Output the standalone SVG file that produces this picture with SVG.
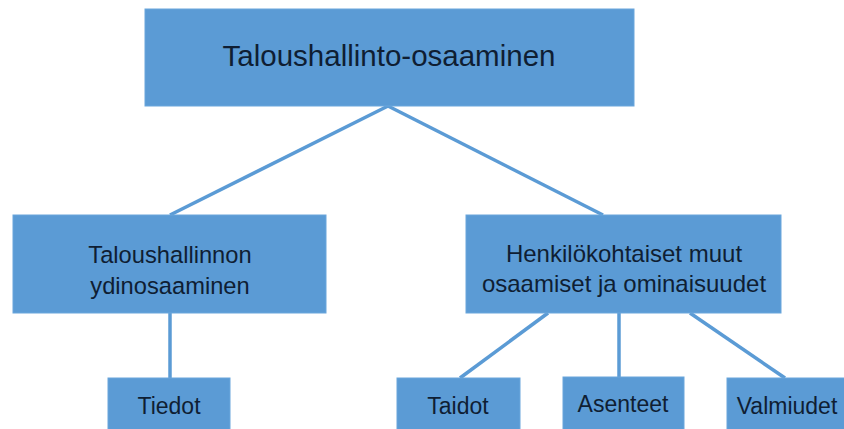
<svg xmlns="http://www.w3.org/2000/svg" width="844" height="429" viewBox="0 0 844 429">
<style>
.box{fill:#5b9bd5;stroke:#6aa6dc;stroke-width:1}
.t{font-family:"Liberation Sans",Arial,sans-serif;fill:#0f1e33;text-anchor:middle}
.c{stroke:#5b9bd5;stroke-width:3.5;fill:none}
</style>
<rect width="844" height="429" fill="#ffffff"/>
<g id="connectors">
<line class="c" x1="388" y1="106" x2="170" y2="215"/>
<line class="c" x1="388" y1="106" x2="603" y2="215"/>
<line class="c" x1="170" y1="313" x2="170" y2="378"/>
<line class="c" x1="548" y1="313" x2="460" y2="378"/>
<line class="c" x1="619" y1="313" x2="619" y2="378"/>
<line class="c" x1="690" y1="313" x2="785" y2="378"/>
</g>
<g id="n-top">
<rect class="box" x="145" y="9" width="489" height="97"/>
<text class="t" x="389" y="66" font-size="29.5">Taloushallinto-osaaminen</text>
</g>
<g id="n-core">
<rect class="box" x="13" y="215" width="313" height="98"/>
<text class="t" x="170" y="263" font-size="23.7">Taloushallinnon</text>
<text class="t" x="170" y="294" font-size="23.7">ydinosaaminen</text>
</g>
<g id="n-personal">
<rect class="box" x="466" y="215" width="315" height="98"/>
<text class="t" x="624" y="262" font-size="24">Henkilökohtaiset muut</text>
<text class="t" x="624" y="292" font-size="24">osaamiset ja ominaisuudet</text>
</g>
<g id="n-tiedot">
<rect class="box" x="108" y="378" width="122" height="60"/>
<text class="t" x="169" y="414" font-size="23">Tiedot</text>
</g>
<g id="n-taidot">
<rect class="box" x="397" y="378" width="123" height="60"/>
<text class="t" x="458" y="414" font-size="23">Taidot</text>
</g>
<g id="n-asenteet">
<rect class="box" x="563" y="377" width="121" height="60"/>
<text class="t" x="623" y="412" font-size="23">Asenteet</text>
</g>
<g id="n-valmiudet">
<rect class="box" x="727" y="378" width="125" height="60"/>
<text class="t" x="787" y="414" font-size="23">Valmiudet</text>
</g>
</svg>
